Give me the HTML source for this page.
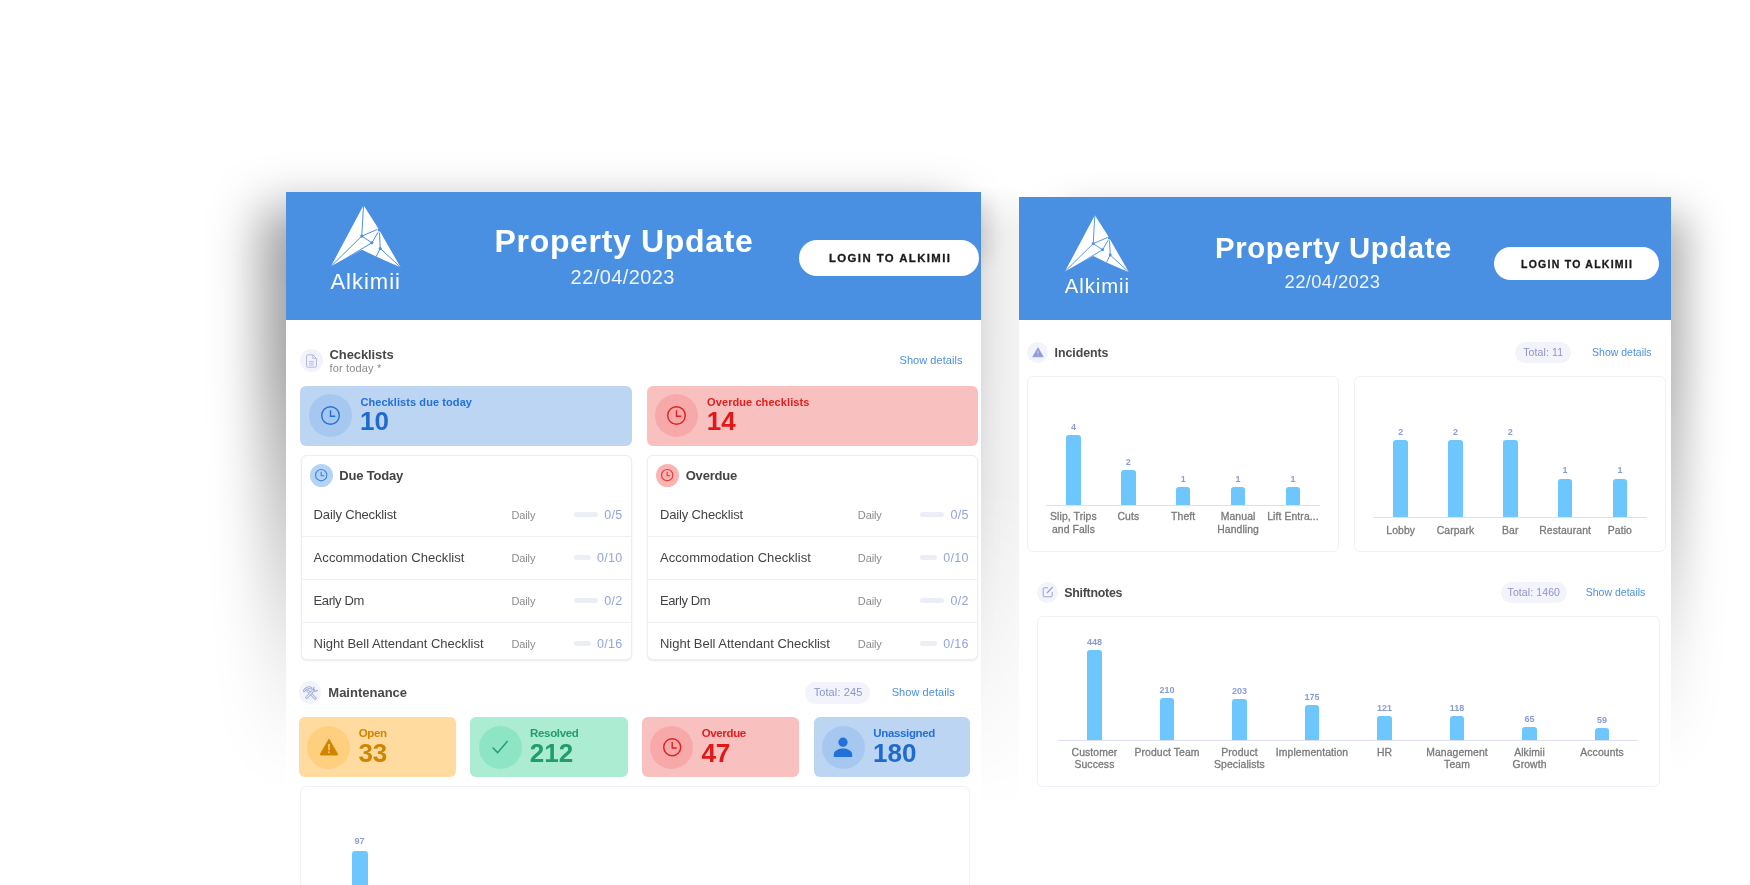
<!DOCTYPE html>
<html><head><meta charset="utf-8"><title>Property Update</title><style>
html,body{margin:0;padding:0;background:#fff;}
body{width:1750px;height:885px;position:relative;overflow:hidden;font-family:"Liberation Sans", sans-serif;}
#w{position:absolute;left:0;top:0;width:1750px;height:885px;overflow:hidden;will-change:transform;}
.t{position:absolute;white-space:nowrap;line-height:1;}
.b{position:absolute;}
.sh{position:absolute;pointer-events:none;}
.shL{left:261px;top:208px;width:695px;height:640px;background:linear-gradient(to bottom,rgba(0,0,0,.38) 0%,rgba(0,0,0,.37) 24%,rgba(0,0,0,.20) 50%,rgba(0,0,0,.07) 70%,rgba(0,0,0,0) 88%);filter:blur(25px);}
.shR{left:1062px;top:216px;width:624px;height:620px;background:linear-gradient(to bottom,rgba(0,0,0,.32) 0%,rgba(0,0,0,.31) 24%,rgba(0,0,0,.20) 50%,rgba(0,0,0,.07) 70%,rgba(0,0,0,0) 88%);filter:blur(20px);}
.gap{left:981px;top:184px;width:37.5px;height:680px;background:linear-gradient(to right,rgba(0,0,0,.078) 0%,rgba(0,0,0,.052) 100%);-webkit-mask-image:linear-gradient(to bottom,transparent 0%,rgba(0,0,0,.5) 3%,#000 7%,#000 45%,transparent 92%);mask-image:linear-gradient(to bottom,transparent 0%,rgba(0,0,0,.5) 3%,#000 7%,#000 45%,transparent 92%);}
.topL{left:560px;top:200px;width:428px;height:60px;background:linear-gradient(to right,rgba(0,0,0,0),rgba(0,0,0,.10) 40%);filter:blur(11px);}
</style></head><body><div id="w">
<div class="sh shL"></div><div class="sh shR"></div><div class="sh gap"></div><div class="sh topL"></div>
<div class="b" style="left:286.00px;top:192.00px;width:695.00px;height:708.00px;background:#fff;border-radius:0px;"></div>
<div class="b" style="left:286.00px;top:192.00px;width:695.00px;height:128.00px;background:#4a90e2;border-radius:0px;"></div>
<svg class="b" style="left:330.10px;top:204.53px" width="72.00" height="64.00" viewBox="-1 -1 72 64"><polygon points="32.55,-0.83 47.20,22.14 46.80,25.07 49.23,25.80 69.57,61.19 45.16,50.61 30.92,43.70 0.00,60.37" fill="#fff"/><line x1="32.55" y1="-0.83" x2="30.76" y2="30.11" stroke="#4a90e2" stroke-width="1.0"/><line x1="30.76" y1="30.11" x2="46.50" y2="23.37" stroke="#4a90e2" stroke-width="1.0"/><line x1="30.76" y1="30.11" x2="40.93" y2="36.78" stroke="#4a90e2" stroke-width="1.0"/><line x1="40.93" y1="36.78" x2="47.00" y2="26.37" stroke="#4a90e2" stroke-width="1.0"/><line x1="48.50" y1="26.67" x2="49.23" y2="42.47" stroke="#4a90e2" stroke-width="1.0"/><line x1="49.23" y1="42.47" x2="45.16" y2="50.61" stroke="#4a90e2" stroke-width="1.0"/><line x1="49.23" y1="42.47" x2="69.57" y2="61.19" stroke="#4a90e2" stroke-width="1.0"/><line x1="30.76" y1="30.11" x2="0.00" y2="60.37" stroke="#4a90e2" stroke-width="1.0"/><line x1="40.93" y1="36.78" x2="1.50" y2="60.47" stroke="#4a90e2" stroke-width="1.0"/><circle cx="30.76" cy="30.11" r="1.55" fill="#4a90e2"/><circle cx="40.93" cy="36.78" r="1.55" fill="#4a90e2"/><circle cx="49.23" cy="42.47" r="1.55" fill="#4a90e2"/></svg>
<div class="t" style="top:271.00px;font-size:22px;font-weight:normal;color:#fff;letter-spacing:1.0px;left:330.40px;">Alkimii</div>
<div class="t" style="top:225.00px;font-size:32px;font-weight:bold;color:#fff;letter-spacing:0.66px;left:494.60px;">Property Update</div>
<div class="t" style="top:267.00px;font-size:20px;font-weight:normal;color:#eef4fd;letter-spacing:0.42px;left:570.60px;">22/04/2023</div>
<div class="b" style="left:799.00px;top:240.00px;width:180.30px;height:36.00px;background:#fff;border-radius:18px;"></div>
<div class="t" style="top:253.00px;font-size:11.4px;font-weight:bold;color:#1a1a1a;letter-spacing:1.4px;left:890.20px;transform:translateX(-50%);-webkit-text-stroke:0.3px #1a1a1a;">LOGIN TO ALKIMII</div>
<div class="b" style="left:300.30px;top:349.00px;width:23.00px;height:23.00px;background:#f3f4fb;border-radius:11.5px;"></div>
<svg class="b" style="left:306.00px;top:353.60px" width="12" height="14" viewBox="0 0 12 14"><path d="M1.6 0.8 H6.8 L10.4 4.4 V12 Q10.4 13.2 9.2 13.2 H1.6 Q0.6 13.2 0.6 12 V1.8 Q0.6 0.8 1.6 0.8 Z M6.8 0.8 V4.4 H10.4" fill="none" stroke="#b0b9e6" stroke-width="1"/><path d="M3.2 7.4 H7.8 M3.2 9.2 H7.8 M3.2 11 H7.8" stroke="#b0b9e6" stroke-width="0.9"/></svg>
<div class="t" style="top:348.00px;font-size:13px;font-weight:bold;color:#484848;letter-spacing:-0.1px;left:329.50px;">Checklists</div>
<div class="t" style="top:363.00px;font-size:11px;font-weight:normal;color:#8c8c8c;letter-spacing:0.15px;left:329.60px;">for today *</div>
<div class="t" style="top:355.00px;font-size:11px;font-weight:normal;color:#4a90e2;letter-spacing:0.05px;right:787.50px;">Show details</div>
<div class="b" style="left:300.00px;top:386.00px;width:332.00px;height:60.00px;background:#bbd5f3;border-radius:6px;"></div>
<div class="b" style="left:308.70px;top:394.30px;width:43.00px;height:43.00px;background:#a6c8f0;border-radius:21.5px;"></div>
<svg class="b" style="left:318.70px;top:404.20px" width="23.0" height="23.0" viewBox="-11.5 -11.5 23.0 23.0"><circle cx="0" cy="0" r="8.80" fill="none" stroke="#2370d6" stroke-width="1.4"/><path d="M0 -5.32 V0.76 H4.75" fill="none" stroke="#2370d6" stroke-width="1.4" stroke-linejoin="miter"/></svg>
<div class="t" style="top:397.00px;font-size:11px;font-weight:bold;color:#2370d6;letter-spacing:0.08px;left:360.40px;">Checklists due today</div>
<div class="t" style="top:408.00px;font-size:26px;font-weight:bold;color:#1f6bcd;left:360.00px;">10</div>
<div class="b" style="left:646.70px;top:386.00px;width:331.40px;height:60.00px;background:#f9c0c0;border-radius:6px;"></div>
<div class="b" style="left:655.40px;top:394.30px;width:43.00px;height:43.00px;background:#f7a9a9;border-radius:21.5px;"></div>
<svg class="b" style="left:665.40px;top:404.20px" width="23.0" height="23.0" viewBox="-11.5 -11.5 23.0 23.0"><circle cx="0" cy="0" r="8.80" fill="none" stroke="#e02020" stroke-width="1.4"/><path d="M0 -5.32 V0.76 H4.75" fill="none" stroke="#e02020" stroke-width="1.4" stroke-linejoin="miter"/></svg>
<div class="t" style="top:397.00px;font-size:11px;font-weight:bold;color:#e02020;letter-spacing:0.08px;left:707.10px;">Overdue checklists</div>
<div class="t" style="top:408.00px;font-size:26px;font-weight:bold;color:#e01818;left:706.70px;">14</div>
<div class="b" style="left:301.00px;top:455.40px;width:331.00px;height:204.80px;background:#fff;border-radius:6px;border:1px solid #eceef5;box-sizing:border-box;box-shadow:0 1px 2px rgba(40,50,90,.10);"></div>
<div class="b" style="left:309.70px;top:464.10px;width:23.00px;height:23.00px;background:#b5d3f5;border-radius:11.5px;"></div>
<svg class="b" style="left:313.00px;top:467.40px" width="16.4" height="16.4" viewBox="-8.2 -8.2 16.4 16.4"><circle cx="0" cy="0" r="5.65" fill="none" stroke="#3b82e0" stroke-width="1.1"/><path d="M0 -3.47 V0.50 H3.10" fill="none" stroke="#3b82e0" stroke-width="1.1" stroke-linejoin="miter"/></svg>
<div class="t" style="top:469.00px;font-size:13px;font-weight:bold;color:#444;letter-spacing:-0.2px;left:339.30px;">Due Today</div>
<div class="t" style="top:508.00px;font-size:13px;font-weight:normal;color:#444;letter-spacing:-0.15px;left:313.60px;">Daily Checklist</div>
<div class="t" style="top:510.00px;font-size:11px;font-weight:normal;color:#8c8c8c;letter-spacing:-0.1px;left:511.40px;">Daily</div>
<div class="b" style="left:574.00px;top:512.10px;width:24.00px;height:4.50px;background:#eceef6;border-radius:2.3px;"></div>
<div class="t" style="top:509.00px;font-size:12.5px;font-weight:normal;color:#93a5db;letter-spacing:0.3px;right:1127.60px;">0/5</div>
<div class="b" style="left:301.50px;top:535.60px;width:330.00px;height:1.20px;background:#eef0f6;border-radius:0px;"></div>
<div class="t" style="top:551.00px;font-size:13px;font-weight:normal;color:#444;letter-spacing:0.06px;left:313.60px;">Accommodation Checklist</div>
<div class="t" style="top:553.00px;font-size:11px;font-weight:normal;color:#8c8c8c;letter-spacing:-0.1px;left:511.40px;">Daily</div>
<div class="b" style="left:574.00px;top:555.10px;width:17.00px;height:4.50px;background:#eceef6;border-radius:2.3px;"></div>
<div class="t" style="top:552.00px;font-size:12.5px;font-weight:normal;color:#93a5db;letter-spacing:0.3px;right:1127.60px;">0/10</div>
<div class="b" style="left:301.50px;top:578.60px;width:330.00px;height:1.20px;background:#eef0f6;border-radius:0px;"></div>
<div class="t" style="top:594.00px;font-size:13px;font-weight:normal;color:#444;letter-spacing:-0.4px;left:313.60px;">Early Dm</div>
<div class="t" style="top:596.00px;font-size:11px;font-weight:normal;color:#8c8c8c;letter-spacing:-0.1px;left:511.40px;">Daily</div>
<div class="b" style="left:574.00px;top:598.10px;width:24.00px;height:4.50px;background:#eceef6;border-radius:2.3px;"></div>
<div class="t" style="top:595.00px;font-size:12.5px;font-weight:normal;color:#93a5db;letter-spacing:0.3px;right:1127.60px;">0/2</div>
<div class="b" style="left:301.50px;top:621.60px;width:330.00px;height:1.20px;background:#eef0f6;border-radius:0px;"></div>
<div class="t" style="top:637.00px;font-size:13px;font-weight:normal;color:#444;letter-spacing:-0.02px;left:313.60px;">Night Bell Attendant Checklist</div>
<div class="t" style="top:639.00px;font-size:11px;font-weight:normal;color:#8c8c8c;letter-spacing:-0.1px;left:511.40px;">Daily</div>
<div class="b" style="left:574.00px;top:641.10px;width:17.00px;height:4.50px;background:#eceef6;border-radius:2.3px;"></div>
<div class="t" style="top:638.00px;font-size:12.5px;font-weight:normal;color:#93a5db;letter-spacing:0.3px;right:1127.60px;">0/16</div>
<div class="b" style="left:647.40px;top:455.40px;width:330.20px;height:204.80px;background:#fff;border-radius:6px;border:1px solid #eceef5;box-sizing:border-box;box-shadow:0 1px 2px rgba(40,50,90,.10);"></div>
<div class="b" style="left:656.10px;top:464.10px;width:23.00px;height:23.00px;background:#f9b4b4;border-radius:11.5px;"></div>
<svg class="b" style="left:659.40px;top:467.40px" width="16.4" height="16.4" viewBox="-8.2 -8.2 16.4 16.4"><circle cx="0" cy="0" r="5.65" fill="none" stroke="#e53535" stroke-width="1.1"/><path d="M0 -3.47 V0.50 H3.10" fill="none" stroke="#e53535" stroke-width="1.1" stroke-linejoin="miter"/></svg>
<div class="t" style="top:469.00px;font-size:13px;font-weight:bold;color:#444;letter-spacing:-0.2px;left:685.70px;">Overdue</div>
<div class="t" style="top:508.00px;font-size:13px;font-weight:normal;color:#444;letter-spacing:-0.15px;left:660.00px;">Daily Checklist</div>
<div class="t" style="top:510.00px;font-size:11px;font-weight:normal;color:#8c8c8c;letter-spacing:-0.1px;left:857.80px;">Daily</div>
<div class="b" style="left:920.40px;top:512.10px;width:24.00px;height:4.50px;background:#eceef6;border-radius:2.3px;"></div>
<div class="t" style="top:509.00px;font-size:12.5px;font-weight:normal;color:#93a5db;letter-spacing:0.3px;right:781.20px;">0/5</div>
<div class="b" style="left:647.90px;top:535.60px;width:329.20px;height:1.20px;background:#eef0f6;border-radius:0px;"></div>
<div class="t" style="top:551.00px;font-size:13px;font-weight:normal;color:#444;letter-spacing:0.06px;left:660.00px;">Accommodation Checklist</div>
<div class="t" style="top:553.00px;font-size:11px;font-weight:normal;color:#8c8c8c;letter-spacing:-0.1px;left:857.80px;">Daily</div>
<div class="b" style="left:920.40px;top:555.10px;width:17.00px;height:4.50px;background:#eceef6;border-radius:2.3px;"></div>
<div class="t" style="top:552.00px;font-size:12.5px;font-weight:normal;color:#93a5db;letter-spacing:0.3px;right:781.20px;">0/10</div>
<div class="b" style="left:647.90px;top:578.60px;width:329.20px;height:1.20px;background:#eef0f6;border-radius:0px;"></div>
<div class="t" style="top:594.00px;font-size:13px;font-weight:normal;color:#444;letter-spacing:-0.4px;left:660.00px;">Early Dm</div>
<div class="t" style="top:596.00px;font-size:11px;font-weight:normal;color:#8c8c8c;letter-spacing:-0.1px;left:857.80px;">Daily</div>
<div class="b" style="left:920.40px;top:598.10px;width:24.00px;height:4.50px;background:#eceef6;border-radius:2.3px;"></div>
<div class="t" style="top:595.00px;font-size:12.5px;font-weight:normal;color:#93a5db;letter-spacing:0.3px;right:781.20px;">0/2</div>
<div class="b" style="left:647.90px;top:621.60px;width:329.20px;height:1.20px;background:#eef0f6;border-radius:0px;"></div>
<div class="t" style="top:637.00px;font-size:13px;font-weight:normal;color:#444;letter-spacing:-0.02px;left:660.00px;">Night Bell Attendant Checklist</div>
<div class="t" style="top:639.00px;font-size:11px;font-weight:normal;color:#8c8c8c;letter-spacing:-0.1px;left:857.80px;">Daily</div>
<div class="b" style="left:920.40px;top:641.10px;width:17.00px;height:4.50px;background:#eceef6;border-radius:2.3px;"></div>
<div class="t" style="top:638.00px;font-size:12.5px;font-weight:normal;color:#93a5db;letter-spacing:0.3px;right:781.20px;">0/16</div>
<div class="b" style="left:298.95px;top:681.05px;width:22.50px;height:22.50px;background:#f3f4fb;border-radius:11.25px;"></div>
<svg class="b" style="left:302.60px;top:685.60px" width="15.6" height="14" viewBox="0 0 15.6 14"><g fill="none" stroke-linecap="round" stroke-linejoin="round"><path d="M4.8 4.8 L12.2 12.2" stroke="#99a5db" stroke-width="2.7"/><path d="M4.8 4.8 L12.2 12.2" stroke="#f3f4fb" stroke-width="1.1"/><path d="M10.6 4.2 L3.6 11.6" stroke="#99a5db" stroke-width="2.7"/><path d="M10.6 4.2 L3.6 11.6" stroke="#f3f4fb" stroke-width="1.1"/><path d="M1.2 5 Q2.2 2.2 5.4 1.6 Q7.4 1.4 8.2 2.4" stroke="#99a5db" stroke-width="2.4"/><path d="M1.2 5 Q2.2 2.2 5.4 1.6 Q7.4 1.4 8.2 2.4" stroke="#f3f4fb" stroke-width="0.9"/><path d="M10.8 1.4 L10.4 3.6 L12 5.2 L14.4 4.6" stroke="#99a5db" stroke-width="1.1"/></g></svg>
<div class="t" style="top:686.00px;font-size:13px;font-weight:bold;color:#484848;left:328.30px;">Maintenance</div>
<div class="b" style="left:805.40px;top:681.60px;width:65.00px;height:22.00px;background:#f3f4fb;border-radius:11px;"></div>
<div class="t" style="top:687.00px;font-size:11px;font-weight:normal;color:#8a94cf;letter-spacing:0.1px;left:838.00px;transform:translateX(-50%);">Total: 245</div>
<div class="t" style="top:687.00px;font-size:11px;font-weight:normal;color:#4a90e2;letter-spacing:0.05px;right:795.30px;">Show details</div>
<div class="b" style="left:299.00px;top:717.20px;width:156.60px;height:59.80px;background:#ffdba0;border-radius:6px;"></div>
<div class="b" style="left:307.20px;top:725.80px;width:43.00px;height:43.00px;background:#ffcf80;border-radius:21.5px;"></div>
<svg class="b" style="left:318.70px;top:737.90px" width="20" height="18" viewBox="0 0 20 18"><path d="M10 1.2 L18.6 16.2 Q18.9 17 18 17 H2 Q1.1 17 1.4 16.2 Z" fill="#d08400" stroke="#d08400" stroke-width="1" stroke-linejoin="round"/><rect x="9.2" y="6" width="1.6" height="6.2" fill="#ffcf80"/><rect x="9.2" y="13.4" width="1.6" height="1.7" fill="#ffcf80"/></svg>
<div class="t" style="top:728.00px;font-size:11.5px;font-weight:bold;color:#d08400;letter-spacing:-0.35px;left:358.70px;">Open</div>
<div class="t" style="top:740.00px;font-size:26px;font-weight:bold;color:#d08400;left:358.40px;">33</div>
<div class="b" style="left:470.40px;top:717.20px;width:157.30px;height:59.80px;background:#abecd3;border-radius:6px;"></div>
<div class="b" style="left:478.60px;top:725.80px;width:43.00px;height:43.00px;background:#8ee5c6;border-radius:21.5px;"></div>
<svg class="b" style="left:491.10px;top:739.30px" width="18" height="16" viewBox="0 0 18 16"><path d="M1.6 8.6 L6.6 13.6 L16.6 2" fill="none" stroke="#1f9d6b" stroke-width="1.4"/></svg>
<div class="t" style="top:728.00px;font-size:11.5px;font-weight:bold;color:#1f9d6b;letter-spacing:-0.35px;left:530.10px;">Resolved</div>
<div class="t" style="top:740.00px;font-size:26px;font-weight:bold;color:#1f9d6b;left:529.80px;">212</div>
<div class="b" style="left:642.00px;top:717.20px;width:157.20px;height:59.80px;background:#f9c0c0;border-radius:6px;"></div>
<div class="b" style="left:650.20px;top:725.80px;width:43.00px;height:43.00px;background:#f7a9a9;border-radius:21.5px;"></div>
<svg class="b" style="left:660.50px;top:736.10px" width="22.4" height="22.4" viewBox="-11.2 -11.2 22.4 22.4"><circle cx="0" cy="0" r="8.50" fill="none" stroke="#e02020" stroke-width="1.4"/><path d="M0 -5.15 V0.74 H4.60" fill="none" stroke="#e02020" stroke-width="1.4" stroke-linejoin="miter"/></svg>
<div class="t" style="top:728.00px;font-size:11.5px;font-weight:bold;color:#e02020;letter-spacing:-0.35px;left:701.70px;">Overdue</div>
<div class="t" style="top:740.00px;font-size:26px;font-weight:bold;color:#e01818;left:701.40px;">47</div>
<div class="b" style="left:813.60px;top:717.20px;width:156.80px;height:59.80px;background:#bbd5f3;border-radius:6px;"></div>
<div class="b" style="left:821.80px;top:725.80px;width:43.00px;height:43.00px;background:#a6c8f0;border-radius:21.5px;"></div>
<svg class="b" style="left:833.30px;top:736.80px" width="20" height="21" viewBox="0 0 20 21"><circle cx="10" cy="5.2" r="4.6" fill="#2370d6"/><path d="M0.8 20 V17.6 C0.8 13.4 6.4 11.6 10 11.6 C13.6 11.6 19.2 13.4 19.2 17.6 V20 Z" fill="#2370d6"/></svg>
<div class="t" style="top:728.00px;font-size:11.5px;font-weight:bold;color:#2370d6;letter-spacing:-0.35px;left:873.30px;">Unassigned</div>
<div class="t" style="top:740.00px;font-size:26px;font-weight:bold;color:#1f6bcd;left:873.00px;">180</div>
<div class="b" style="left:299.50px;top:785.80px;width:670.90px;height:174.20px;background:#fff;border-radius:6px;border:1px solid #f0f1f8;box-sizing:border-box;"></div>
<div class="t" style="top:837.00px;font-size:9px;font-weight:bold;color:#8d9fd8;left:359.60px;transform:translateX(-50%);">97</div>
<div class="b" style="left:352.20px;top:850.60px;width:15.40px;height:49.40px;background:#6ec6ff;border-radius:0px;border-radius:3px 3px 0 0;"></div>
<div class="b" style="left:1018.50px;top:196.50px;width:652.50px;height:643.50px;background:#fff;border-radius:0px;"></div>
<div class="b" style="left:1018.50px;top:196.50px;width:652.50px;height:123.50px;background:#4a90e2;border-radius:0px;"></div>
<svg class="b" style="left:1064.28px;top:214.98px" width="66.24" height="58.88" viewBox="-1 -1 72 64"><polygon points="32.55,-0.83 47.20,22.14 46.80,25.07 49.23,25.80 69.57,61.19 45.16,50.61 30.92,43.70 0.00,60.37" fill="#fff"/><line x1="32.55" y1="-0.83" x2="30.76" y2="30.11" stroke="#4a90e2" stroke-width="1.0"/><line x1="30.76" y1="30.11" x2="46.50" y2="23.37" stroke="#4a90e2" stroke-width="1.0"/><line x1="30.76" y1="30.11" x2="40.93" y2="36.78" stroke="#4a90e2" stroke-width="1.0"/><line x1="40.93" y1="36.78" x2="47.00" y2="26.37" stroke="#4a90e2" stroke-width="1.0"/><line x1="48.50" y1="26.67" x2="49.23" y2="42.47" stroke="#4a90e2" stroke-width="1.0"/><line x1="49.23" y1="42.47" x2="45.16" y2="50.61" stroke="#4a90e2" stroke-width="1.0"/><line x1="49.23" y1="42.47" x2="69.57" y2="61.19" stroke="#4a90e2" stroke-width="1.0"/><line x1="30.76" y1="30.11" x2="0.00" y2="60.37" stroke="#4a90e2" stroke-width="1.0"/><line x1="40.93" y1="36.78" x2="1.50" y2="60.47" stroke="#4a90e2" stroke-width="1.0"/><circle cx="30.76" cy="30.11" r="1.55" fill="#4a90e2"/><circle cx="40.93" cy="36.78" r="1.55" fill="#4a90e2"/><circle cx="49.23" cy="42.47" r="1.55" fill="#4a90e2"/></svg>
<div class="t" style="top:276.00px;font-size:20.3px;font-weight:normal;color:#fff;letter-spacing:0.95px;left:1064.80px;">Alkimii</div>
<div class="t" style="top:233.00px;font-size:29.3px;font-weight:bold;color:#fff;letter-spacing:0.6px;left:1215.00px;">Property Update</div>
<div class="t" style="top:273.00px;font-size:18.4px;font-weight:normal;color:#eef4fd;letter-spacing:0.36px;left:1284.60px;">22/04/2023</div>
<div class="b" style="left:1493.70px;top:247.10px;width:165.20px;height:33.20px;background:#fff;border-radius:17px;"></div>
<div class="t" style="top:259.00px;font-size:10.5px;font-weight:bold;color:#1a1a1a;letter-spacing:1.25px;left:1577.10px;transform:translateX(-50%);-webkit-text-stroke:0.3px #1a1a1a;">LOGIN TO ALKIMII</div>
<div class="b" style="left:1026.90px;top:341.90px;width:21.00px;height:21.00px;background:#f3f4fb;border-radius:10.5px;"></div>
<svg class="b" style="left:1031.50px;top:347.00px" width="12" height="11" viewBox="0 0 12 11"><path d="M6 0.8 L11.2 9.8 H0.8 Z" fill="#8f9bd6" stroke="#8f9bd6" stroke-width="0.8" stroke-linejoin="round"/><rect x="5.6" y="3.6" width="0.8" height="3.4" fill="#dfe3f5"/><rect x="5.6" y="7.8" width="0.8" height="0.9" fill="#dfe3f5"/></svg>
<div class="t" style="top:347.00px;font-size:12.4px;font-weight:bold;color:#484848;letter-spacing:-0.05px;left:1054.50px;">Incidents</div>
<div class="b" style="left:1515.00px;top:342.00px;width:56.40px;height:21.00px;background:#f3f4fb;border-radius:10.5px;"></div>
<div class="t" style="top:347.00px;font-size:10.5px;font-weight:normal;color:#8a94cf;letter-spacing:0.1px;left:1543.20px;transform:translateX(-50%);">Total: 11</div>
<div class="t" style="top:347.00px;font-size:10.5px;font-weight:normal;color:#4a90e2;right:98.40px;">Show details</div>
<div class="b" style="left:1027.00px;top:376.40px;width:312.40px;height:176.00px;background:#fff;border-radius:6px;border:1px solid #f0f1f8;box-sizing:border-box;"></div>
<div class="b" style="left:1066.14px;top:435.40px;width:14.60px;height:69.40px;background:#6ec6ff;border-radius:0px;border-radius:3px 3px 0 0;"></div>
<div class="t" style="top:423.00px;font-size:9px;font-weight:bold;color:#8b9bd6;left:1073.44px;transform:translateX(-50%);">4</div>
<div class="t" style="top:512.00px;font-size:10.4px;font-weight:normal;color:#7a7a7a;letter-spacing:0.1px;left:1073.44px;transform:translateX(-50%);-webkit-text-stroke:0.3px #7a7a7a;">Slip, Trips</div>
<div class="t" style="top:525.00px;font-size:10.4px;font-weight:normal;color:#7a7a7a;letter-spacing:0.1px;left:1073.44px;transform:translateX(-50%);-webkit-text-stroke:0.3px #7a7a7a;">and Falls</div>
<div class="b" style="left:1121.02px;top:470.10px;width:14.60px;height:34.70px;background:#6ec6ff;border-radius:0px;border-radius:3px 3px 0 0;"></div>
<div class="t" style="top:458.00px;font-size:9px;font-weight:bold;color:#8b9bd6;left:1128.32px;transform:translateX(-50%);">2</div>
<div class="t" style="top:512.00px;font-size:10.4px;font-weight:normal;color:#7a7a7a;letter-spacing:0.1px;left:1128.32px;transform:translateX(-50%);-webkit-text-stroke:0.3px #7a7a7a;">Cuts</div>
<div class="b" style="left:1175.90px;top:487.45px;width:14.60px;height:17.35px;background:#6ec6ff;border-radius:0px;border-radius:3px 3px 0 0;"></div>
<div class="t" style="top:475.00px;font-size:9px;font-weight:bold;color:#8b9bd6;left:1183.20px;transform:translateX(-50%);">1</div>
<div class="t" style="top:512.00px;font-size:10.4px;font-weight:normal;color:#7a7a7a;letter-spacing:0.1px;left:1183.20px;transform:translateX(-50%);-webkit-text-stroke:0.3px #7a7a7a;">Theft</div>
<div class="b" style="left:1230.78px;top:487.45px;width:14.60px;height:17.35px;background:#6ec6ff;border-radius:0px;border-radius:3px 3px 0 0;"></div>
<div class="t" style="top:475.00px;font-size:9px;font-weight:bold;color:#8b9bd6;left:1238.08px;transform:translateX(-50%);">1</div>
<div class="t" style="top:512.00px;font-size:10.4px;font-weight:normal;color:#7a7a7a;letter-spacing:0.1px;left:1238.08px;transform:translateX(-50%);-webkit-text-stroke:0.3px #7a7a7a;">Manual</div>
<div class="t" style="top:525.00px;font-size:10.4px;font-weight:normal;color:#7a7a7a;letter-spacing:0.1px;left:1238.08px;transform:translateX(-50%);-webkit-text-stroke:0.3px #7a7a7a;">Handling</div>
<div class="b" style="left:1285.66px;top:487.45px;width:14.60px;height:17.35px;background:#6ec6ff;border-radius:0px;border-radius:3px 3px 0 0;"></div>
<div class="t" style="top:475.00px;font-size:9px;font-weight:bold;color:#8b9bd6;left:1292.96px;transform:translateX(-50%);">1</div>
<div class="t" style="top:512.00px;font-size:10.4px;font-weight:normal;color:#7a7a7a;letter-spacing:0.1px;left:1292.96px;transform:translateX(-50%);-webkit-text-stroke:0.3px #7a7a7a;">Lift Entra...</div>
<div class="b" style="left:1046.00px;top:504.60px;width:274.40px;height:1.00px;background:#dbe0f6;border-radius:0px;"></div>
<div class="b" style="left:1354.40px;top:376.40px;width:312.00px;height:176.00px;background:#fff;border-radius:6px;border:1px solid #f0f1f8;box-sizing:border-box;"></div>
<div class="b" style="left:1393.40px;top:440.20px;width:14.60px;height:77.20px;background:#6ec6ff;border-radius:0px;border-radius:3px 3px 0 0;"></div>
<div class="t" style="top:428.00px;font-size:9px;font-weight:bold;color:#8b9bd6;left:1400.70px;transform:translateX(-50%);">2</div>
<div class="t" style="top:526.00px;font-size:10.4px;font-weight:normal;color:#7a7a7a;letter-spacing:0.1px;left:1400.70px;transform:translateX(-50%);-webkit-text-stroke:0.3px #7a7a7a;">Lobby</div>
<div class="b" style="left:1448.20px;top:440.20px;width:14.60px;height:77.20px;background:#6ec6ff;border-radius:0px;border-radius:3px 3px 0 0;"></div>
<div class="t" style="top:428.00px;font-size:9px;font-weight:bold;color:#8b9bd6;left:1455.50px;transform:translateX(-50%);">2</div>
<div class="t" style="top:526.00px;font-size:10.4px;font-weight:normal;color:#7a7a7a;letter-spacing:0.1px;left:1455.50px;transform:translateX(-50%);-webkit-text-stroke:0.3px #7a7a7a;">Carpark</div>
<div class="b" style="left:1503.00px;top:440.20px;width:14.60px;height:77.20px;background:#6ec6ff;border-radius:0px;border-radius:3px 3px 0 0;"></div>
<div class="t" style="top:428.00px;font-size:9px;font-weight:bold;color:#8b9bd6;left:1510.30px;transform:translateX(-50%);">2</div>
<div class="t" style="top:526.00px;font-size:10.4px;font-weight:normal;color:#7a7a7a;letter-spacing:0.1px;left:1510.30px;transform:translateX(-50%);-webkit-text-stroke:0.3px #7a7a7a;">Bar</div>
<div class="b" style="left:1557.80px;top:478.80px;width:14.60px;height:38.60px;background:#6ec6ff;border-radius:0px;border-radius:3px 3px 0 0;"></div>
<div class="t" style="top:466.00px;font-size:9px;font-weight:bold;color:#8b9bd6;left:1565.10px;transform:translateX(-50%);">1</div>
<div class="t" style="top:526.00px;font-size:10.4px;font-weight:normal;color:#7a7a7a;letter-spacing:0.1px;left:1565.10px;transform:translateX(-50%);-webkit-text-stroke:0.3px #7a7a7a;">Restaurant</div>
<div class="b" style="left:1612.60px;top:478.80px;width:14.60px;height:38.60px;background:#6ec6ff;border-radius:0px;border-radius:3px 3px 0 0;"></div>
<div class="t" style="top:466.00px;font-size:9px;font-weight:bold;color:#8b9bd6;left:1619.90px;transform:translateX(-50%);">1</div>
<div class="t" style="top:526.00px;font-size:10.4px;font-weight:normal;color:#7a7a7a;letter-spacing:0.1px;left:1619.90px;transform:translateX(-50%);-webkit-text-stroke:0.3px #7a7a7a;">Patio</div>
<div class="b" style="left:1373.30px;top:517.20px;width:274.00px;height:1.00px;background:#dbe0f6;border-radius:0px;"></div>
<div class="b" style="left:1037.40px;top:581.90px;width:21.00px;height:21.00px;background:#f3f4fb;border-radius:10.5px;"></div>
<svg class="b" style="left:1042.00px;top:586.40px" width="12" height="12" viewBox="0 0 12 12"><path d="M6 1.8 H2.2 Q1.2 1.8 1.2 2.8 V9.8 Q1.2 10.8 2.2 10.8 H9.2 Q10.2 10.8 10.2 9.8 V6" fill="none" stroke="#8f9bd6" stroke-width="0.9"/><path d="M5 7 L10.6 1.2" stroke="#8f9bd6" stroke-width="1.2"/></svg>
<div class="t" style="top:587.00px;font-size:12.4px;font-weight:bold;color:#484848;letter-spacing:-0.25px;left:1064.20px;">Shiftnotes</div>
<div class="b" style="left:1500.80px;top:582.10px;width:66.00px;height:20.80px;background:#f3f4fb;border-radius:10.4px;"></div>
<div class="t" style="top:587.00px;font-size:10.5px;font-weight:normal;color:#8a94cf;letter-spacing:0.1px;left:1533.80px;transform:translateX(-50%);">Total: 1460</div>
<div class="t" style="top:587.00px;font-size:10.5px;font-weight:normal;color:#4a90e2;right:104.70px;">Show details</div>
<div class="b" style="left:1037.30px;top:615.50px;width:622.40px;height:171.30px;background:#fff;border-radius:6px;border:1px solid #f0f1f8;box-sizing:border-box;"></div>
<div class="b" style="left:1087.16px;top:650.02px;width:14.60px;height:90.18px;background:#6ec6ff;border-radius:0px;border-radius:3px 3px 0 0;"></div>
<div class="t" style="top:638.00px;font-size:9px;font-weight:bold;color:#8b9bd6;left:1094.46px;transform:translateX(-50%);">448</div>
<div class="t" style="top:748.00px;font-size:10.4px;font-weight:normal;color:#7a7a7a;letter-spacing:0.1px;left:1094.46px;transform:translateX(-50%);-webkit-text-stroke:0.3px #7a7a7a;">Customer</div>
<div class="t" style="top:760.00px;font-size:10.4px;font-weight:normal;color:#7a7a7a;letter-spacing:0.1px;left:1094.46px;transform:translateX(-50%);-webkit-text-stroke:0.3px #7a7a7a;">Success</div>
<div class="b" style="left:1159.67px;top:697.93px;width:14.60px;height:42.27px;background:#6ec6ff;border-radius:0px;border-radius:3px 3px 0 0;"></div>
<div class="t" style="top:686.00px;font-size:9px;font-weight:bold;color:#8b9bd6;left:1166.97px;transform:translateX(-50%);">210</div>
<div class="t" style="top:748.00px;font-size:10.4px;font-weight:normal;color:#7a7a7a;letter-spacing:0.1px;left:1166.97px;transform:translateX(-50%);-webkit-text-stroke:0.3px #7a7a7a;">Product Team</div>
<div class="b" style="left:1232.18px;top:699.34px;width:14.60px;height:40.86px;background:#6ec6ff;border-radius:0px;border-radius:3px 3px 0 0;"></div>
<div class="t" style="top:687.00px;font-size:9px;font-weight:bold;color:#8b9bd6;left:1239.48px;transform:translateX(-50%);">203</div>
<div class="t" style="top:748.00px;font-size:10.4px;font-weight:normal;color:#7a7a7a;letter-spacing:0.1px;left:1239.48px;transform:translateX(-50%);-webkit-text-stroke:0.3px #7a7a7a;">Product</div>
<div class="t" style="top:760.00px;font-size:10.4px;font-weight:normal;color:#7a7a7a;letter-spacing:0.1px;left:1239.48px;transform:translateX(-50%);-webkit-text-stroke:0.3px #7a7a7a;">Specialists</div>
<div class="b" style="left:1304.69px;top:704.97px;width:14.60px;height:35.23px;background:#6ec6ff;border-radius:0px;border-radius:3px 3px 0 0;"></div>
<div class="t" style="top:693.00px;font-size:9px;font-weight:bold;color:#8b9bd6;left:1311.99px;transform:translateX(-50%);">175</div>
<div class="t" style="top:748.00px;font-size:10.4px;font-weight:normal;color:#7a7a7a;letter-spacing:0.1px;left:1311.99px;transform:translateX(-50%);-webkit-text-stroke:0.3px #7a7a7a;">Implementation</div>
<div class="b" style="left:1377.21px;top:715.84px;width:14.60px;height:24.36px;background:#6ec6ff;border-radius:0px;border-radius:3px 3px 0 0;"></div>
<div class="t" style="top:704.00px;font-size:9px;font-weight:bold;color:#8b9bd6;left:1384.51px;transform:translateX(-50%);">121</div>
<div class="t" style="top:748.00px;font-size:10.4px;font-weight:normal;color:#7a7a7a;letter-spacing:0.1px;left:1384.51px;transform:translateX(-50%);-webkit-text-stroke:0.3px #7a7a7a;">HR</div>
<div class="b" style="left:1449.72px;top:716.45px;width:14.60px;height:23.75px;background:#6ec6ff;border-radius:0px;border-radius:3px 3px 0 0;"></div>
<div class="t" style="top:704.00px;font-size:9px;font-weight:bold;color:#8b9bd6;left:1457.02px;transform:translateX(-50%);">118</div>
<div class="t" style="top:748.00px;font-size:10.4px;font-weight:normal;color:#7a7a7a;letter-spacing:0.1px;left:1457.02px;transform:translateX(-50%);-webkit-text-stroke:0.3px #7a7a7a;">Management</div>
<div class="t" style="top:760.00px;font-size:10.4px;font-weight:normal;color:#7a7a7a;letter-spacing:0.1px;left:1457.02px;transform:translateX(-50%);-webkit-text-stroke:0.3px #7a7a7a;">Team</div>
<div class="b" style="left:1522.23px;top:727.12px;width:14.60px;height:13.08px;background:#6ec6ff;border-radius:0px;border-radius:3px 3px 0 0;"></div>
<div class="t" style="top:715.00px;font-size:9px;font-weight:bold;color:#8b9bd6;left:1529.53px;transform:translateX(-50%);">65</div>
<div class="t" style="top:748.00px;font-size:10.4px;font-weight:normal;color:#7a7a7a;letter-spacing:0.1px;left:1529.53px;transform:translateX(-50%);-webkit-text-stroke:0.3px #7a7a7a;">Alkimii</div>
<div class="t" style="top:760.00px;font-size:10.4px;font-weight:normal;color:#7a7a7a;letter-spacing:0.1px;left:1529.53px;transform:translateX(-50%);-webkit-text-stroke:0.3px #7a7a7a;">Growth</div>
<div class="b" style="left:1594.74px;top:728.32px;width:14.60px;height:11.88px;background:#6ec6ff;border-radius:0px;border-radius:3px 3px 0 0;"></div>
<div class="t" style="top:716.00px;font-size:9px;font-weight:bold;color:#8b9bd6;left:1602.04px;transform:translateX(-50%);">59</div>
<div class="t" style="top:748.00px;font-size:10.4px;font-weight:normal;color:#7a7a7a;letter-spacing:0.1px;left:1602.04px;transform:translateX(-50%);-webkit-text-stroke:0.3px #7a7a7a;">Accounts</div>
<div class="b" style="left:1058.20px;top:740.00px;width:580.10px;height:1.00px;background:#dbe0f6;border-radius:0px;"></div>
</div></body></html>
